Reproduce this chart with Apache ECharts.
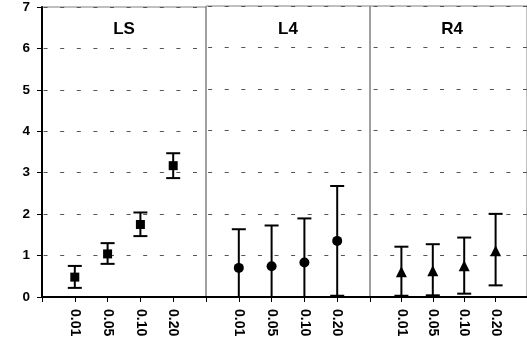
<!DOCTYPE html>
<html>
<head>
<meta charset="utf-8">
<script src="https://cdn.jsdelivr.net/npm/echarts@6/dist/echarts.min.js"></script>
<style>
  html, body { margin: 0; padding: 0; background: #fff; }
  #chart { width: 527px; height: 343px; }
</style>
</head>
<body>
<div id="chart"></div>
<script>
// panel names and x categories (blank slots pad each panel edge)
const panels = ["LS", "L4", "R4"];
const categories = ["", "0.01", "0.05", "0.10", "0.20", ""];
const levels = ["0.01", "0.05", "0.10", "0.20"];
const yTicks = [0, 1, 2, 3, 4, 5, 6, 7];

// means and error-bar ends
const lsMean = [0.48, 1.04, 1.75, 3.17];
const lsLow = [0.22, 0.80, 1.47, 2.87];
const lsHigh = [0.75, 1.30, 2.04, 3.47];

const l4Mean = [0.70, 0.74, 0.83, 1.35];
const l4Low = [-0.23, -0.24, -0.23, 0.03];
const l4High = [1.63, 1.72, 1.89, 2.67];

const r4Mean = [0.61, 0.63, 0.75, 1.11];
const r4Low = [0.03, 0.04, 0.08, 0.28];
const r4High = [1.21, 1.27, 1.43, 2.00];

const means = [lsMean, l4Mean, r4Mean];
const lows = [lsLow, l4Low, r4Low];
const highs = [lsHigh, l4High, r4High];
const symbols = [["rect", 9], ["circle", 10], ["triangle", 11]];

const font = "Arial, 'Liberation Sans', sans-serif";
const panelLeft = 42;
const panelWidth = 164;
const dashOffsets = [15, 14.5, 13];

const chart = echarts.init(document.getElementById("chart"));

const renderErrorBar = (params, api) => {
  const x = api.value(0);
  const lo = api.coord([x, api.value(1)]);
  const hi = api.coord([x, api.value(2)]);
  const half = 7;
  const style = { stroke: "#000", lineWidth: 2 };
  return {
    type: "group",
    children: [
      { type: "line", shape: { x1: lo[0], y1: lo[1], x2: hi[0], y2: hi[1] }, style },
      { type: "line", shape: { x1: lo[0] - half, y1: lo[1], x2: lo[0] + half, y2: lo[1] }, style },
      { type: "line", shape: { x1: hi[0] - half, y1: hi[1], x2: hi[0] + half, y2: hi[1] }, style },
    ],
  };
};

const grids = panels.map((p, i) => ({
  left: panelLeft + i * panelWidth,
  width: panelWidth,
  top: 6,
  height: 291,
  show: true,
  borderColor: "#808080",
  borderWidth: 1,
  backgroundColor: "transparent",
}));

const xAxes = panels.map((p, i) => ({
  type: "category",
  gridIndex: i,
  data: categories,
  boundaryGap: false,
  axisLine: { lineStyle: { color: "#000", width: 2 } },
  axisTick: { length: 5, lineStyle: { color: "#000", width: 1 } },
  axisLabel: {
    rotate: -90,
    margin: 12,
    interval: 0,
    color: "#000",
    fontFamily: font,
    fontWeight: "bold",
    fontSize: 14,
  },
  splitLine: { show: false },
}));

const yAxes = panels.map((p, i) => ({
  type: "value",
  gridIndex: i,
  min: yTicks[0],
  max: yTicks[yTicks.length - 1],
  interval: 1,
  axisLine: { show: i === 0, lineStyle: { color: "#000", width: 2 } },
  axisTick: { show: i === 0, length: 5, lineStyle: { color: "#000", width: 1 } },
  axisLabel: {
    show: i === 0,
    margin: 12,
    color: "#000",
    fontFamily: font,
    fontWeight: "bold",
    fontSize: 13.5,
  },
  splitLine: {
    show: true,
    lineStyle: { color: "#555", width: 1, type: [4, 12.6], dashOffset: dashOffsets[i] },
  },
}));

const series = [];
panels.forEach((p, i) => {
  series.push({
    type: "custom",
    xAxisIndex: i,
    yAxisIndex: i,
    clip: true,
    renderItem: renderErrorBar,
    encode: { x: 0, y: [1, 2] },
    data: levels.map((c, k) => [c, lows[i][k], highs[i][k]]),
    z: 2,
  });
  series.push({
    type: "scatter",
    xAxisIndex: i,
    yAxisIndex: i,
    symbol: symbols[i][0],
    symbolSize: symbols[i][1],
    itemStyle: { color: "#000", opacity: 1 },
    data: levels.map((c, k) => [c, means[i][k]]),
    z: 3,
  });
});

chart.setOption({
  animation: false,
  backgroundColor: "#fff",
  grid: grids,
  xAxis: xAxes,
  yAxis: yAxes,
  series,
  graphic: panels.map((p, i) => ({
    type: "text",
    x: panelLeft + i * panelWidth + panelWidth / 2,
    y: 29.5,
    style: {
      text: p,
      fill: "#000",
      font: `bold 17px ${font}`,
      textAlign: "center",
      textVerticalAlign: "middle",
    },
  })),
});
</script>
</body>
</html>
